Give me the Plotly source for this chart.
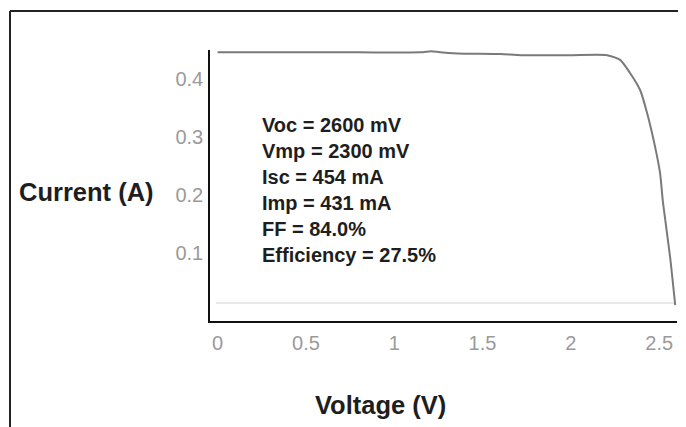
import plotly.graph_objects as go

# I-V curve
voltage = [0.0, 0.40, 0.80, 1.15, 1.21, 1.26, 1.36, 1.60, 1.72, 2.00, 2.205,
           2.279, 2.336, 2.392, 2.432, 2.477, 2.505, 2.522, 2.562, 2.591]
current = [0.446, 0.446, 0.446, 0.446, 0.448, 0.446, 0.444, 0.443, 0.441, 0.441, 0.441,
           0.433, 0.410, 0.381, 0.341, 0.283, 0.238, 0.186, 0.093, 0.010]

# faint scanned baseline of the original chart
baseline_v = [-0.01, 2.59]
baseline_i = [0.0138, 0.0138]

x_ticks = [0, 0.5, 1, 1.5, 2, 2.5]
x_tick_text = ["0", "0.5", "1", "1.5", "2", "2.5"]
y_ticks = [0.1, 0.2, 0.3, 0.4]
y_tick_text = ["0.1", "0.2", "0.3", "0.4"]

stats = ["Voc = 2600 mV", "Vmp = 2300 mV", "Isc = 454 mA",
         "Imp = 431 mA", "FF = 84.0%", "Efficiency = 27.5%"]

FONT = "Liberation Sans, Arial, Helvetica, sans-serif"

OFF = 8  # page body margin offset
W, H = 686 - OFF, 427 - OFF
L, R, T, B = 210 - OFF, 9, 50 - OFF, 106
pw, ph = W - L - R, H - T - B

def px(x):
    return (x - OFF - L) / pw

def py(y):
    return (H - B - (y - OFF)) / ph

fig = go.Figure()
fig.add_trace(go.Scatter(x=baseline_v, y=baseline_i, mode="lines",
                         line=dict(color="#e2e2e2", width=1.5),
                         hoverinfo="skip", showlegend=False))
fig.add_trace(go.Scatter(x=voltage, y=current, mode="lines",
                         line=dict(color="#7a7a7a", width=2, shape="spline", smoothing=0.6),
                         showlegend=False))

fig.update_layout(
    width=W, height=H,
    margin=dict(l=L, r=R, t=T, b=B, pad=0),
    paper_bgcolor="white", plot_bgcolor="white",
    font=dict(family=FONT),
    showlegend=False,
    xaxis=dict(range=[-0.043, 2.601], tickvals=x_ticks, ticktext=x_tick_text,
               showgrid=False, zeroline=False, showline=True, linecolor="#111",
               linewidth=1.5, ticks="outside", ticklen=3, tickcolor="rgba(0,0,0,0)",
               tickfont=dict(size=20, color="#9a9a9a", family=FONT)),
    yaxis=dict(range=[-0.0172, 0.45], tickvals=y_ticks, ticktext=y_tick_text,
               showgrid=False, zeroline=False, showline=True, linecolor="#111",
               linewidth=1.5, ticks="outside", ticklen=1, tickcolor="rgba(0,0,0,0)",
               tickfont=dict(size=20, color="#9a9a9a", family=FONT)),
    shapes=[
        dict(type="line", xref="paper", yref="paper",
             x0=px(10), y0=py(11), x1=px(700), y1=py(11),
             line=dict(color="#222", width=2)),
        dict(type="line", xref="paper", yref="paper",
             x0=px(10), y0=py(11), x1=px(10), y1=py(440),
             line=dict(color="#222", width=2)),
    ],
    annotations=[
        dict(xref="paper", yref="paper", x=px(260), y=py(190),
             xanchor="left", yanchor="middle", align="left", showarrow=False,
             text="<br>".join("<b>%s</b>" % s for s in stats),
             font=dict(size=20, color="#1e1e1e", family=FONT)),
        dict(xref="paper", yref="paper", x=px(17), y=py(192),
             xanchor="left", yanchor="middle", showarrow=False,
             text="<b>Current (A)</b>",
             font=dict(size=25.5, color="#1e1e1e", family=FONT)),
        dict(xref="paper", yref="paper", x=px(380), y=py(405),
             xanchor="center", yanchor="middle", showarrow=False,
             text="<b>Voltage (V)</b>",
             font=dict(size=25.5, color="#1e1e1e", family=FONT)),
    ],
)

fig.write_html("out.html")
